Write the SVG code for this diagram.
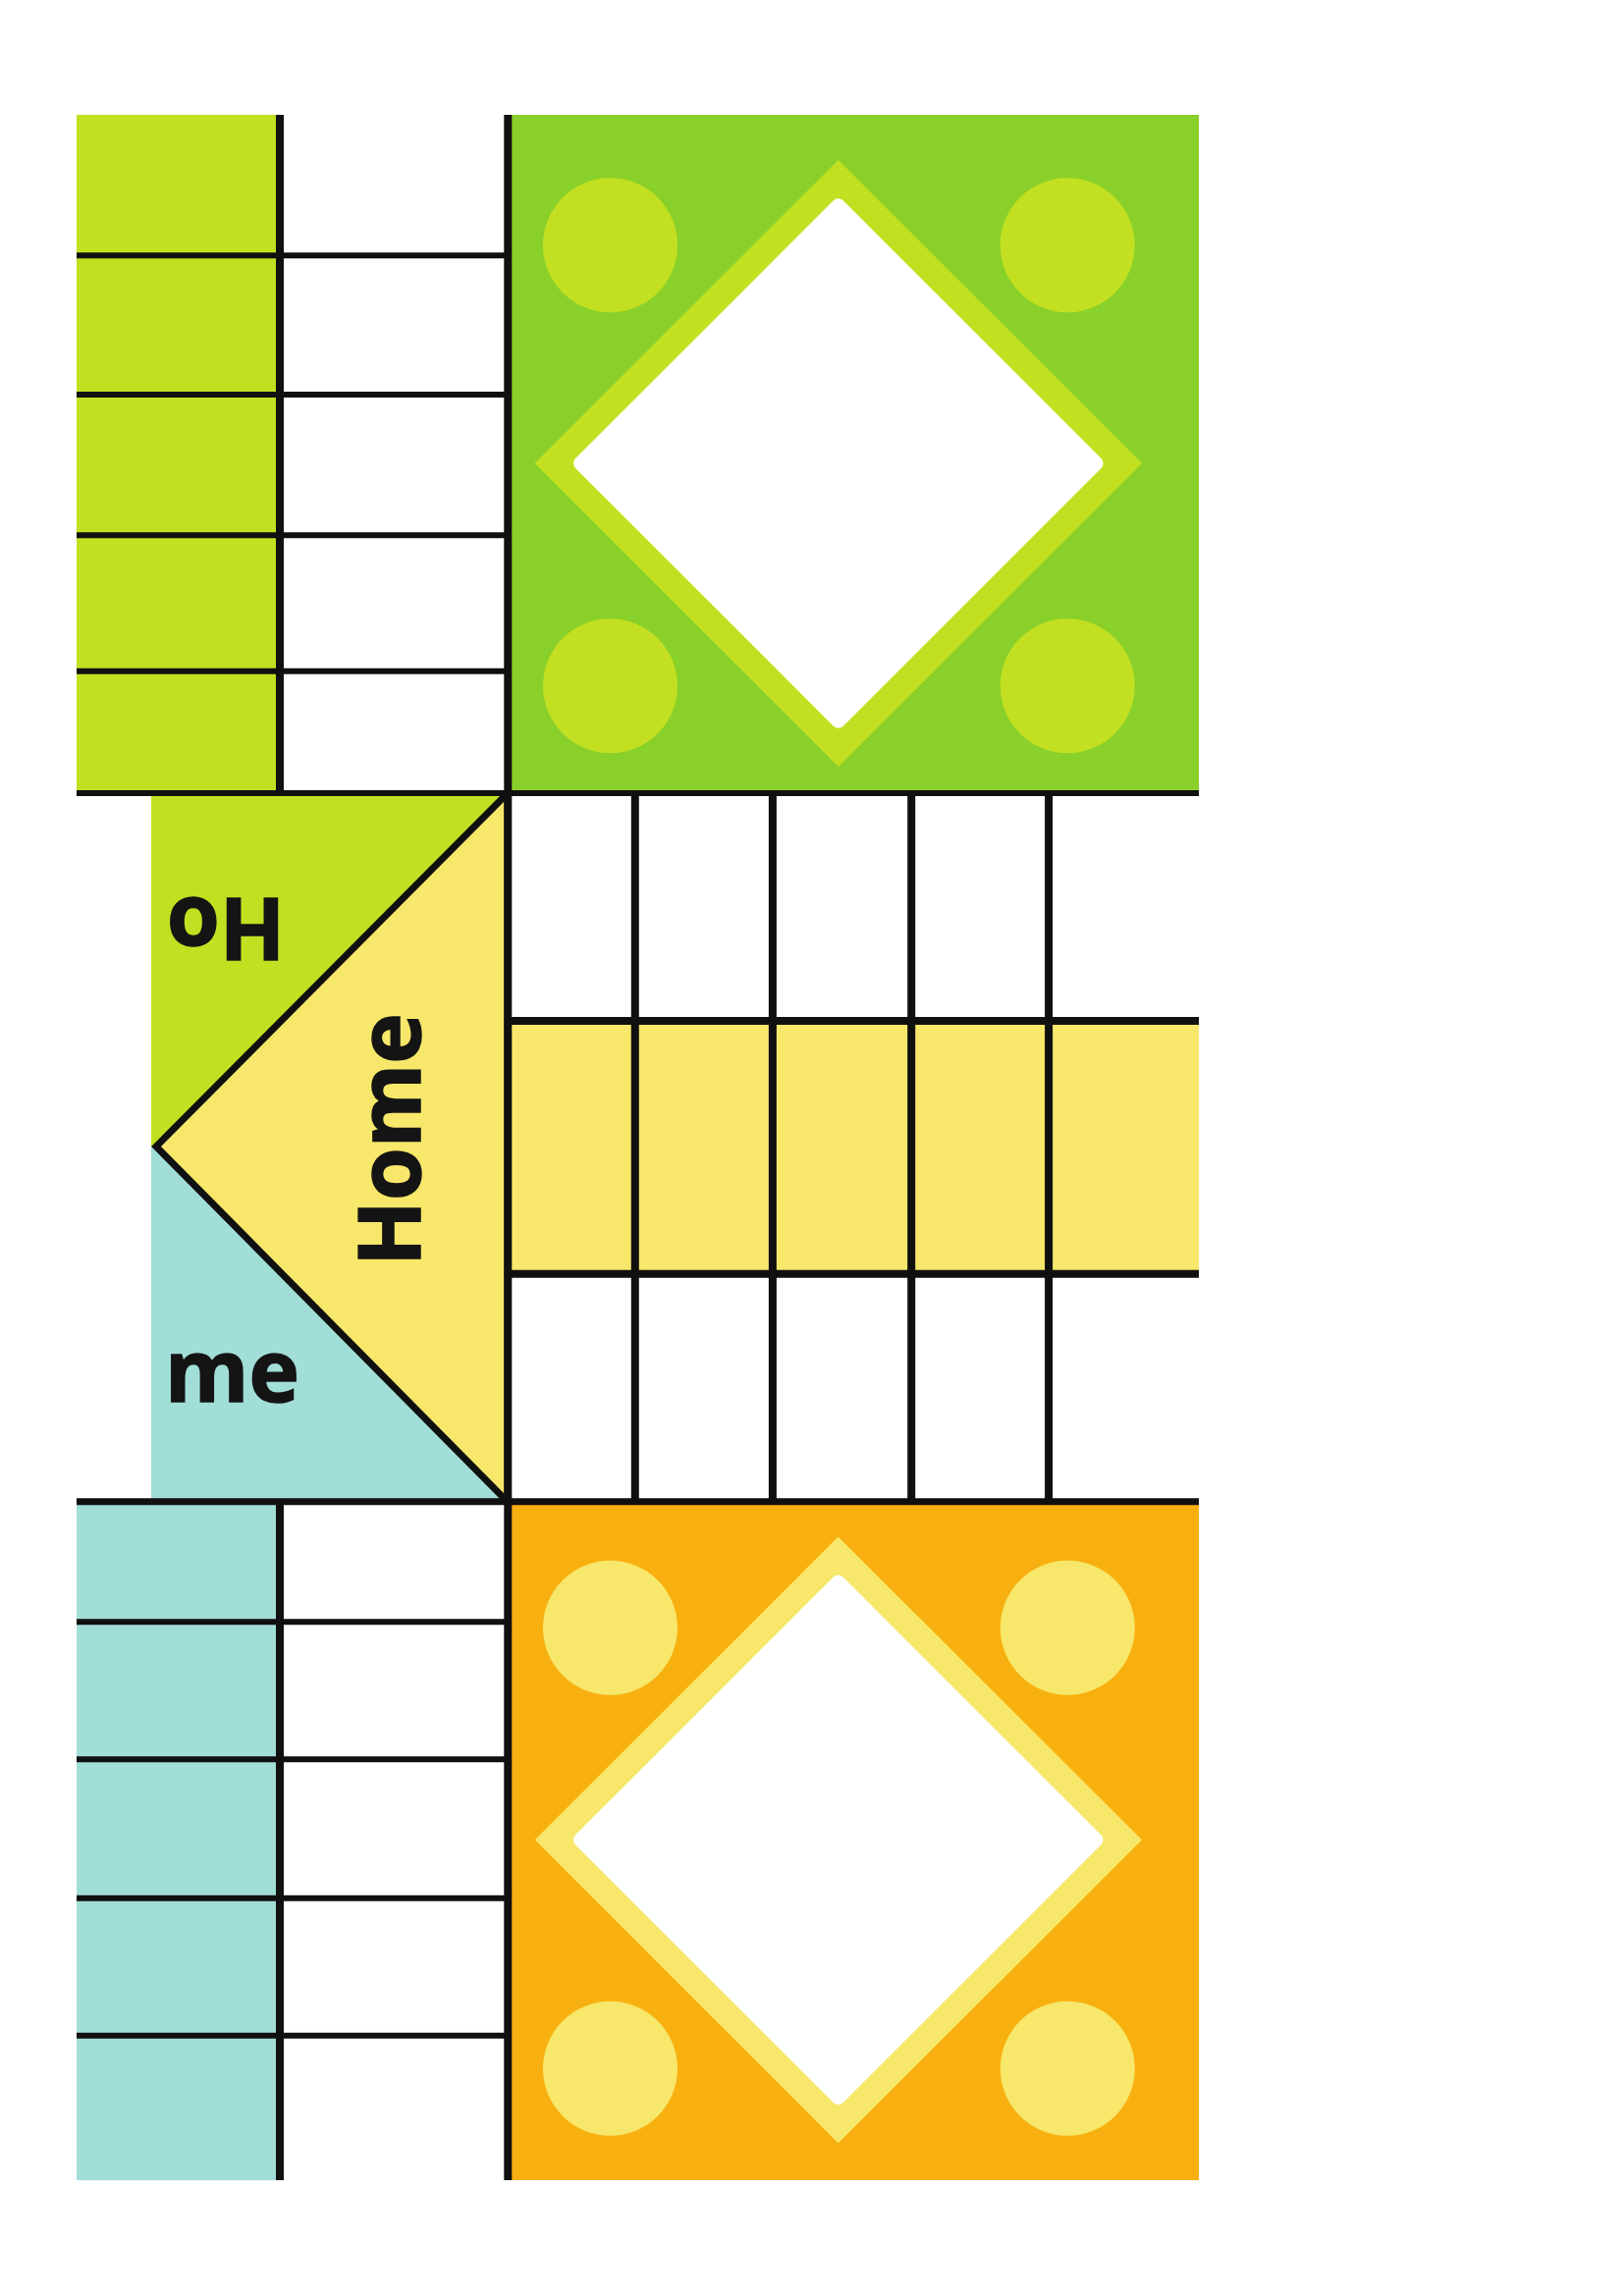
<svg xmlns="http://www.w3.org/2000/svg" width="1654" height="2339" viewBox="0 0 1654 2339">
  <style>
    .lime { fill: #C2E021; }
    .green { fill: #8AD02A; }
    .yellow { fill: #F7E76A; }
    .orange { fill: #F8B010; }
    .teal { fill: #A2DED8; }
    .white { fill: #FFFFFF; }
    .ln { stroke: #111010; fill: none; }
    .v { stroke-width: 8; }
    .h { stroke-width: 6; }
    .hm { stroke-width: 8; }
    .lbl { font-family: "Open Sans", "Liberation Sans", sans-serif; font-weight: 700; font-size: 87px; fill: #141414; }
  </style>
  <rect x="0" y="0" width="1654" height="2339" fill="#FFFFFF"/>

  <g id="top-left-track">
    <rect class="lime" x="78" y="117" width="207" height="691"/>
  </g>

  <g id="green-home">
    <rect class="green" x="517" y="117" width="704" height="691"/>
    <polygon class="lime" points="853.8,163 1163,472 853.8,781 544.6,472"/>
    <rect class="white" x="661" y="279.2" width="385.6" height="385.6" rx="7" transform="rotate(45 853.8 472)"/>
    <circle class="lime" cx="621.5" cy="249.7" r="68.5"/>
    <circle class="lime" cx="1087.2" cy="249.7" r="68.5"/>
    <circle class="lime" cx="621.5" cy="698.8" r="68.5"/>
    <circle class="lime" cx="1087.2" cy="698.8" r="68.5"/>
  </g>

  <g id="centre-home">
    <rect class="lime" x="154" y="808" width="363" height="360"/>
    <rect class="teal" x="154" y="1168" width="363" height="362"/>
    <polygon class="yellow" points="517,808 159,1168 517,1530" stroke="#111010" stroke-width="7"/>
    <text class="lbl" text-anchor="middle" transform="translate(230 915) rotate(180)" stroke="#141414" stroke-width="1.5">Ho</text>
    <text class="lbl" x="168" y="1428" stroke="#141414" stroke-width="1.5">me</text>
    <text class="lbl" text-anchor="middle" transform="translate(427.5 1161) rotate(-90)" stroke="#141414" stroke-width="1.5">Home</text>
  </g>

  <g id="yellow-track">
    <rect class="yellow" x="517" y="1040" width="704" height="258"/>
  </g>

  <g id="bottom-left-track">
    <rect class="teal" x="78" y="1530" width="207" height="691"/>
  </g>

  <g id="orange-home">
    <rect class="orange" x="517" y="1530" width="704" height="691"/>
    <polygon class="yellow" points="853.7,1565.5 1163,1874.3 853.7,2183.3 544.8,1874.3"/>
    <rect class="white" x="660.9" y="1681.5" width="385.6" height="385.6" rx="7" transform="rotate(45 853.7 1874.3)"/>
    <circle class="yellow" cx="621.5" cy="1658.2" r="68.5"/>
    <circle class="yellow" cx="1087.3" cy="1658.2" r="68.5"/>
    <circle class="yellow" cx="621.5" cy="2107.3" r="68.5"/>
    <circle class="yellow" cx="1087.3" cy="2107.3" r="68.5"/>
  </g>

  <g id="connectors">
    <line class="ln h" x1="78" y1="260.3" x2="517" y2="260.3"/>
    <line class="ln h" x1="78" y1="402" x2="517" y2="402"/>
    <line class="ln h" x1="78" y1="545.3" x2="517" y2="545.3"/>
    <line class="ln h" x1="78" y1="683.7" x2="517" y2="683.7"/>
    <line class="ln h" x1="78" y1="1652.3" x2="517" y2="1652.3"/>
    <line class="ln h" x1="78" y1="1792.3" x2="517" y2="1792.3"/>
    <line class="ln h" x1="78" y1="1933.7" x2="517" y2="1933.7"/>
    <line class="ln h" x1="78" y1="2073.7" x2="517" y2="2073.7"/>
    <line class="ln h" x1="78" y1="808" x2="1221" y2="808"/>
    <line class="ln" stroke-width="7" x1="78" y1="1529.7" x2="1221" y2="1529.7"/>
    <line class="ln hm" x1="517" y1="1040" x2="1221" y2="1040"/>
    <line class="ln hm" x1="517" y1="1297.7" x2="1221" y2="1297.7"/>
    <line class="ln v" x1="285" y1="117" x2="285" y2="808"/>
    <line class="ln v" x1="285" y1="1530" x2="285" y2="2221"/>
    <line class="ln v" x1="517.3" y1="117" x2="517.3" y2="2221"/>
    <line class="ln v" x1="646.8" y1="808" x2="646.8" y2="1530"/>
    <line class="ln v" x1="786.9" y1="808" x2="786.9" y2="1530"/>
    <line class="ln v" x1="928.2" y1="808" x2="928.2" y2="1530"/>
    <line class="ln v" x1="1068.1" y1="808" x2="1068.1" y2="1530"/>
  </g>
</svg>
